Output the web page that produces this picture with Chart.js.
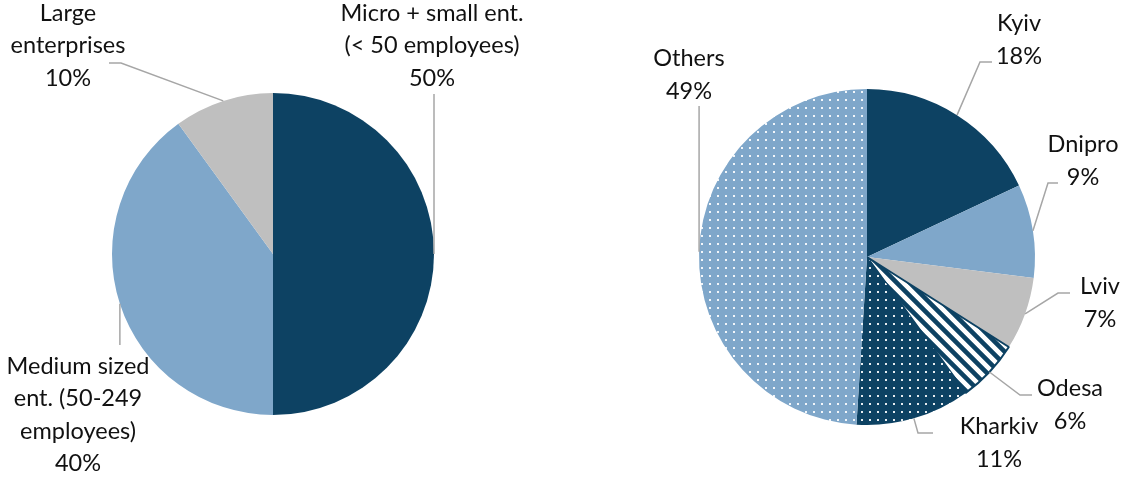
<!DOCTYPE html>
<html lang="en">
<head>
<meta charset="UTF-8">
<title>Enterprises by size and by region</title>
<script src="https://cdn.jsdelivr.net/npm/chart.js"></script>
<style>
  body { margin: 0; background: #fff; }
  .wrap { position: relative; width: 1124px; height: 477px; }
  canvas { position: absolute; top: 0; }
  #sizeChart { left: 0; }
  #regionChart { left: 562px; }
</style>
</head>
<body>
<div class="wrap">
  <canvas id="sizeChart" width="562" height="477"></canvas>
  <canvas id="regionChart" width="562" height="477"></canvas>
</div>
<script>
// share of enterprises by size (%)
const sizeNames = [
  ['Micro + small ent.', '(< 50 employees)'],
  ['Medium sized', 'ent. (50-249', 'employees)'],
  ['Large', 'enterprises']
];
const sizeValues = [50, 40, 10];

// share of enterprises by region (%)
const regionNames = [['Kyiv'], ['Dnipro'], ['Lviv'], ['Odesa'], ['Kharkiv'], ['Others']];
const regionValues = [18, 9, 7, 6, 11, 49];

const NAVY = '#0d4263';
const LIGHT = '#7fa7ca';
const GREY = '#bfbfbf';

// small white dot grid on a coloured ground
function dotPattern(bg) {
  const c = document.createElement('canvas');
  c.width = 8; c.height = 8;
  const g = c.getContext('2d');
  g.fillStyle = bg;
  g.fillRect(0, 0, 8, 8);
  g.fillStyle = 'rgba(255,255,255,0.9)';
  g.fillRect(3, 3, 2, 2);
  return g.createPattern(c, 'repeat');
}

// wide downward diagonal stripes
function stripePattern(fg) {
  const s = 13;
  const c = document.createElement('canvas');
  c.width = s; c.height = s;
  const g = c.getContext('2d');
  g.fillStyle = '#fff';
  g.fillRect(0, 0, s, s);
  g.strokeStyle = fg;
  g.lineWidth = 4.6;
  g.beginPath();
  g.moveTo(-1, -1); g.lineTo(s + 1, s + 1);
  g.moveTo(-s, 0); g.lineTo(s, 2 * s);
  g.moveTo(0, -s); g.lineTo(2 * s, s);
  g.stroke();
  return g.createPattern(c, 'repeat');
}

// leader lines from the middle of each slice's arc to its label
const calloutPlugin = {
  id: 'callouts',
  afterDatasetsDraw(chart, args, opts) {
    const ctx = chart.ctx;
    const meta = chart.getDatasetMeta(0);
    const values = chart.data.datasets[0].data;
    meta.data.forEach((arc, i) => {
      const p = arc.getProps(['x', 'y', 'startAngle', 'endAngle', 'outerRadius'], true);
      const mid = (p.startAngle + p.endAngle) / 2;
      const ax = p.x + Math.cos(mid) * p.outerRadius;
      const ay = p.y + Math.sin(mid) * p.outerRadius;
      const spot = opts.spots[i];
      ctx.save();
      ctx.strokeStyle = '#a6a6a6';
      ctx.lineWidth = 1.5;
      ctx.beginPath();
      ctx.moveTo(ax, ay);
      spot.path.forEach(([x, y]) => ctx.lineTo(x == null ? ax : x, y));
      ctx.stroke();
      const lines = opts.names[i].concat([values[i] + '%']);
      ctx.fillStyle = '#111';
      ctx.font = '23.5px Lato';
      ctx.textAlign = 'center';
      ctx.textBaseline = 'middle';
      lines.forEach((t, k) => ctx.fillText(t, spot.x, spot.y + k * opts.lineHeight));
      ctx.restore();
    });
  }
};

new Chart(document.getElementById('sizeChart'), {
  type: 'pie',
  data: {
    labels: sizeNames.map(n => n.join(' ')),
    datasets: [{
      data: sizeValues,
      backgroundColor: [NAVY, LIGHT, GREY],
      borderWidth: 0
    }]
  },
  options: {
    responsive: false,
    animation: false,
    layout: { padding: { left: 112, right: 128, top: 93, bottom: 62 } },
    plugins: {
      legend: { display: false },
      tooltip: { enabled: false },
      callouts: {
        names: sizeNames,
        lineHeight: 32.5,
        spots: [
          { x: 432, y: 13, path: [[null, 94]] },
          { x: 78, y: 366, path: [[null, 345]] },
          { x: 68, y: 13, path: [[121, 63], [109, 63]] }
        ]
      }
    }
  },
  plugins: [calloutPlugin]
});

new Chart(document.getElementById('regionChart'), {
  type: 'pie',
  data: {
    labels: regionNames.map(n => n.join(' ')),
    datasets: [{
      data: regionValues,
      backgroundColor: [NAVY, LIGHT, GREY, stripePattern(NAVY), dotPattern(NAVY), dotPattern(LIGHT)],
      borderColor: NAVY,
      borderWidth: [0, 0, 0, 2, 0, 0]
    }]
  },
  options: {
    responsive: false,
    animation: false,
    layout: { padding: { left: 136, right: 88, top: 88, bottom: 51 } },
    plugins: {
      legend: { display: false },
      tooltip: { enabled: false },
      callouts: {
        names: regionNames,
        lineHeight: 33,
        spots: [
          { x: 457, y: 23, path: [[418, 62], [430, 62]] },
          { x: 521, y: 144, path: [[486, 183], [496, 183]] },
          { x: 538, y: 286, path: [[496, 293], [508, 293]] },
          { x: 508, y: 388, path: [[458, 395], [470, 395]] },
          { x: 437, y: 426, path: [[356, 433], [371, 433]] },
          { x: 127, y: 58, path: [[null, 106]] }
        ]
      }
    }
  },
  plugins: [calloutPlugin]
});
</script>
</body>
</html>
